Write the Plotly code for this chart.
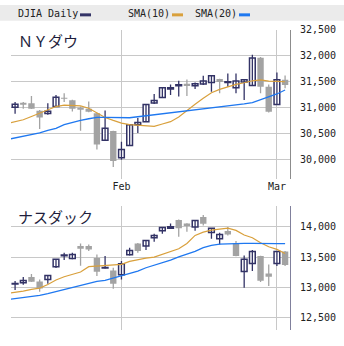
import plotly.graph_objects as go

# ---- data: DJIA (top) ----
dates = ["01-12","01-13","01-14","01-15","01-19","01-20","01-21","01-22","01-25","01-26",
         "01-27","01-28","01-29","02-01","02-02","02-03","02-04","02-05","02-08","02-09",
         "02-10","02-11","02-12","02-16","02-17","02-18","02-19","02-22","02-23","02-24",
         "02-25","02-26","03-01","03-02"]
month_ticks = ["02-01", "03-01"]
month_labels = ["Feb", "Mar"]

dj_open  = [31006,31076,31083,30936,30886,31019,31184,31140,30994,30975,
            30892,30370,30548,30033,30269,30669,30727,31089,31191,31356,
            31420,31458,31420,31452,31483,31547,31483,31382,31490,31426,
            31960,31401,31057,31534]
dj_high  = [31108,31108,31223,30950,31083,31242,31273,31150,31019,31114,
            30900,30943,30555,30339,30675,30796,31060,31261,31385,31445,
            31515,31541,31483,31611,31623,31555,31655,31655,31540,32018,
            31973,31445,31674,31617]
dj_low   = [30879,30975,30970,30587,30860,31010,31108,30924,30555,30910,
            30192,30365,29855,29995,30265,30510,30722,31070,31188,31242,
            31210,31223,31356,31432,31305,31273,31401,31273,31146,31420,
            31273,30905,31050,31369]
dj_close = [31064,31064,30975,30809,30930,31197,31172,30975,30955,30917,
            30288,30599,29970,30192,30669,30714,31057,31134,31382,31382,
            31439,31413,31458,31509,31611,31490,31496,31509,31534,31954,
            31401,30917,31534,31432]
# SMA values, first entry is the session before the first candle (01-11)
dj_sma10 = [30688,30720,30765,30828,30892,30955,31019,31045,31045,31032,30987,
            30905,30809,30752,30701,30669,30657,30637,30637,30682,30727,
            30816,30943,31064,31178,31286,31350,31401,31445,31477,31515,
            31534,31509,31502,31496]
dj_sma20 = [30383,30415,30447,30478,30510,30561,30599,30669,30714,30752,30784,
            30809,30809,30809,30796,30803,30822,30841,30854,30873,30886,
            30905,30924,30943,30968,30987,31006,31032,31051,31070,31095,
            31146,31197,31261,31337]
dj_ticks = [30000, 30500, 31000, 31500, 32000, 32500]

# ---- data: NASDAQ (bottom) ----
nq_open  = [13055,13077,13170,13099,13132,13341,13522,13478,13681,13681,
            13484,13319,13280,13209,13538,13725,13681,13819,13934,13973,
            14110,14055,13995,14159,13907,13802,13929,13725,13264,13396,
            13516,13231,13396,13593]
nq_high  = [13104,13170,13220,13132,13200,13465,13571,13571,13725,13709,
            13544,13516,13324,13434,13654,13730,13780,13885,13992,14055,
            14121,14058,14107,14192,13976,13901,13995,13764,13527,13615,
            13520,13379,13598,13598]
nq_low   = [12956,13044,13090,12929,13060,13319,13451,13462,13357,13599,
            13187,13313,12978,13132,13527,13571,13615,13753,13885,13970,
            13835,13918,13934,14022,13802,13709,13857,13512,12994,13269,
            13088,13022,13352,13352]
nq_close = [13066,13115,13093,12983,13198,13462,13533,13544,13637,13626,
            13258,13330,13060,13390,13610,13599,13775,13857,13989,14000,
            13973,14011,14104,14050,13973,13874,13874,13516,13462,13593,
            13110,13176,13593,13368]
nq_sma10 = [12901,12918,12940,12967,12989,13049,13121,13176,13209,13253,13341,
            13352,13352,13363,13379,13429,13462,13484,13500,13544,13582,
            13637,13725,13857,13912,13945,13962,13978,13940,13863,13819,
            13736,13670,13626,13560]
nq_sma20 = [12797,12813,12841,12857,12868,12896,12929,12967,12994,13033,13066,
            13099,13115,13154,13181,13225,13269,13324,13363,13407,13451,
            13505,13549,13593,13654,13692,13714,13720,13725,13725,13725,
            13720,13720,13720,13720]
nq_ticks = [12500, 13000, 13500, 14000]

NAVY = "#333366"
GRAY = "#a3a3a3"
ORANGE = "#d9a03c"
BLUE = "#1f78f0"
GRID = "#c8c8c8"
MONO = "DejaVu Sans Mono"

xi = list(range(len(dates)))
xs = list(range(-1, len(dates)))
tick_idx = [dates.index(d) for d in month_ticks]

fig = go.Figure()

def add_panel(o, h, l, c, s10, s20, xa, ya):
    up = [i for i in xi if c[i] >= o[i]]
    dn = [i for i in xi if c[i] < o[i]]
    for idx, col in ((up, NAVY), (dn, GRAY)):
        wx, wy = [], []
        for i in idx:
            wx += [i, i, None]
            wy += [l[i], h[i], None]
        fig.add_trace(go.Scatter(x=wx, y=wy, mode="lines", xaxis=xa, yaxis=ya,
                                 line=dict(color=col, width=1.3), showlegend=False,
                                 hoverinfo="skip"))
    fig.add_trace(go.Bar(x=up, base=[o[i] for i in up], y=[c[i] - o[i] for i in up],
                         width=0.7, xaxis=xa, yaxis=ya,
                         marker=dict(color="white", line=dict(color=NAVY, width=1.5)),
                         showlegend=False, hoverinfo="skip"))
    fig.add_trace(go.Bar(x=dn, base=[c[i] for i in dn], y=[o[i] - c[i] for i in dn],
                         width=0.78, xaxis=xa, yaxis=ya,
                         marker=dict(color=GRAY, line=dict(width=0)),
                         showlegend=False, hoverinfo="skip"))
    fig.add_trace(go.Scatter(x=xs, y=s10, mode="lines", xaxis=xa, yaxis=ya,
                             line=dict(color=ORANGE, width=1.2), showlegend=False,
                             hoverinfo="skip"))
    fig.add_trace(go.Scatter(x=xs, y=s20, mode="lines", xaxis=xa, yaxis=ya,
                             line=dict(color=BLUE, width=1.3), showlegend=False,
                             hoverinfo="skip"))

add_panel(dj_open, dj_high, dj_low, dj_close, dj_sma10, dj_sma20, "x", "y")
add_panel(nq_open, nq_high, nq_low, nq_close, nq_sma10, nq_sma20, "x2", "y2")

W, H = 344, 346
xdom = [11 / W, 290 / W]
xr = [-0.5, 33.6]

def xaxis_cfg(show_labels, anchor):
    return dict(domain=xdom, range=xr, anchor=anchor, tickmode="array", tickvals=tick_idx,
                ticktext=month_labels, showgrid=True, gridcolor=GRID, gridwidth=1,
                zeroline=False, showline=False, ticks="", showticklabels=show_labels,
                tickfont=dict(family=MONO, size=10, color="#222"), fixedrange=True)

def yaxis_cfg(dom, rng, ticks, anchor, linecolor):
    return dict(domain=dom, range=rng, side="right", anchor=anchor,
                tickmode="array", tickvals=ticks,
                ticktext=[f"{t:,}" for t in ticks],
                showgrid=True, gridcolor=GRID, gridwidth=1, zeroline=False,
                showline=True, linecolor=linecolor, linewidth=1,
                ticks="outside", ticklen=7, tickcolor="rgba(0,0,0,0)",
                tickfont=dict(family=MONO, size=10, color="#222"), fixedrange=True)

fig.update_layout(
    width=W, height=H, margin=dict(l=0, r=0, t=0, b=0),
    paper_bgcolor="white", plot_bgcolor="white",
    barmode="overlay",
    xaxis=xaxis_cfg(True, "y"),
    xaxis2=xaxis_cfg(False, "y2"),
    yaxis=yaxis_cfg([(H - 177) / H, (H - 25) / H], [29615, 32500], dj_ticks, "x", "#8c8c8c"),
    yaxis2=yaxis_cfg([(H - 330) / H, (H - 204) / H], [12294, 14341], nq_ticks, "x2", "#80809c"),
)

# legend header band
fig.add_shape(type="rect", xref="paper", yref="paper", x0=0, x1=1,
              y0=(H - 16) / H, y1=1, fillcolor="#ebebeb", line=dict(width=0), layer="below")
legend_items = [("DJIA Daily", NAVY, 16, 80), ("SMA(10)", ORANGE, 126, 172), ("SMA(20)", BLUE, 193, 239)]
for txt, col, tx, sx in legend_items:
    fig.add_annotation(text=txt, xref="paper", yref="paper", x=tx / W, y=(H - 9) / H,
                       xanchor="left", yanchor="middle", showarrow=False,
                       font=dict(family=MONO, size=10, color="#222"))
    fig.add_shape(type="line", xref="paper", yref="paper", x0=sx / W, x1=(sx + 11) / W,
                  y0=(H - 10) / H, y1=(H - 10) / H, line=dict(color=col, width=3))

# panel titles
fig.add_annotation(text="ＮＹダウ", xref="paper", yref="paper", x=16 / W, y=(H - 36) / H,
                   xanchor="left", yanchor="middle", showarrow=False,
                   font=dict(family="Noto Sans CJK JP", size=15, color="#1e1e3c"))
fig.add_annotation(text="ナスダック", xref="paper", yref="paper", x=16 / W, y=(H - 215) / H,
                   xanchor="left", yanchor="middle", showarrow=False,
                   font=dict(family="Noto Sans CJK JP", size=15, color="#1e1e3c"))

fig.write_html("out.html")
